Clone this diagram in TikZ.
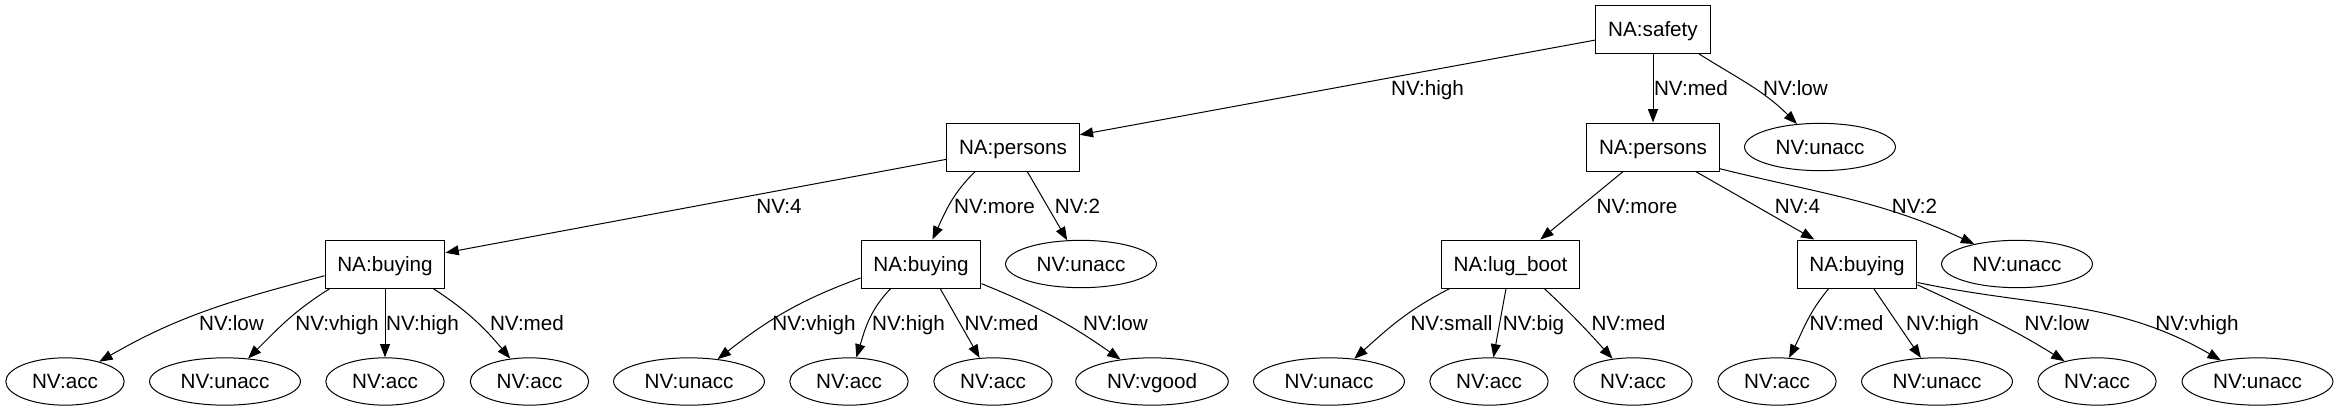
\documentclass[tikz,border=0pt]{standalone}
\usepackage{fontspec}
\setmainfont{Liberation Sans}
\usetikzlibrary{shapes.geometric,arrows.meta}
\def\attnode{\node[draw=black,rectangle,minimum height=36pt,inner xsep=9.2pt,inner ysep=0pt,text height=11.1pt,text depth=0pt]}
\def\valnode{\node[draw=black,ellipse,minimum height=35.5pt,inner xsep=6.7pt,inner ysep=0pt,text height=11.1pt,text depth=0pt]}
\def\drawedge{\draw[-{Triangle[length=10pt,width=7.5pt]}]}
\def\edgelabel{\node[anchor=base,inner sep=0pt]}

\begin{document}
\begin{tikzpicture}[x=0.75pt,y=0.75pt,line width=0.75pt,font=\fontsize{15.5}{18}\selectfont]
\useasboundingbox (0,0) rectangle (2338,-411);

% -------- attribute nodes (boxes) ---------
\attnode (safety) at (1653,-29.5) {NA:safety};
\attnode (persL) at (1013,-147) {NA:persons};
\attnode (persR) at (1653,-147) {NA:persons};
\attnode (buyLL) at (385,-264) {NA:buying};
\attnode (buyLM) at (921,-264) {NA:buying};
\attnode (lug) at (1510.5,-264) {NA:lug\_boot};
\attnode (buyR) at (1857,-264) {NA:buying};

% -------- value leaves (ellipses) ---------
\valnode (unaccS) at (1820,-147) {NV:unacc};
\valnode (unaccPL) at (1081,-264) {NV:unacc};
\valnode (unaccPR) at (2017,-264) {NV:unacc};
% bottom row, left to right
\valnode (v1) at (65,-381.5) {NV:acc};
\valnode (v2) at (225,-381.5) {NV:unacc};
\valnode (v3) at (385,-381.5) {NV:acc};
\valnode (v4) at (529.5,-381.5) {NV:acc};
\valnode (v5) at (689,-381.5) {NV:unacc};
\valnode (v6) at (849,-381.5) {NV:acc};
\valnode (v7) at (993,-381.5) {NV:acc};
\valnode (v8) at (1152,-381.5) {NV:vgood};
\valnode (v9) at (1329,-381.5) {NV:unacc};
\valnode (v10) at (1489,-381.5) {NV:acc};
\valnode (v11) at (1633,-381.5) {NV:acc};
\valnode (v12) at (1777,-381.5) {NV:acc};
\valnode (v13) at (1937,-381.5) {NV:unacc};
\valnode (v14) at (2097,-381.5) {NV:acc};
\valnode (v15) at (2257.5,-381.5) {NV:unacc};

% -------- safety ---------
\drawedge (safety) -- (persL);
\drawedge (safety) -- (persR);
\drawedge (safety.-28) to[out=-32,in=135] (unaccS);
\edgelabel (lHighS) at (1427.5,-95) {NV:high};
\edgelabel (lMedS) at (1691,-95) {NV:med};
\edgelabel (lLowS) at (1795.5,-95) {NV:low};

% -------- persons LEFT ---------
\drawedge (persL) -- (buyLL);
\drawedge (persL.213) to[out=224,in=65] (buyLM);
\drawedge (persL) -- (unaccPL);
\edgelabel (l4L) at (779,-213.3) {NV:4};
\edgelabel (lMoreL) at (994.5,-213.3) {NV:more};
\edgelabel (l2L) at (1077.5,-213.3) {NV:2};

% -------- persons RIGHT ---------
\drawedge (persR) -- (lug);
\drawedge (persR) -- (buyR);
\drawedge (persR.-18) to[out=-14,in=155] (unaccPR);
\edgelabel (lMoreR) at (1637,-213.3) {NV:more};
\edgelabel (l4R) at (1797.5,-213.3) {NV:4};
\edgelabel (l2R) at (1914.5,-213.3) {NV:2};

% -------- buying, far left ---------
\drawedge (buyLL.191) to[out=195,in=30] (v1);
\drawedge (buyLL.204) to[out=212,in=45] (v2);
\drawedge (buyLL) -- (v3);
\drawedge (buyLL.-27) to[out=-33,in=130] (v4);
\edgelabel (lLow1) at (231.5,-330.5) {NV:low};
\edgelabel (lVhigh2) at (337,-330.5) {NV:vhigh};
\edgelabel (lHigh3) at (422.5,-330.5) {NV:high};
\edgelabel (lMed4) at (527,-330.5) {NV:med};

% -------- buying, middle ---------
\drawedge (buyLM.193) to[out=200,in=38] (v5);
\drawedge (buyLM.219) to[out=226,in=73] (v6);
\drawedge (buyLM.-52) -- (v7);
\drawedge (buyLM.-18) to[out=-22,in=145] (v8);
\edgelabel (lVhigh5) at (814,-330.5) {NV:vhigh};
\edgelabel (lHigh6) at (908.5,-330.5) {NV:high};
\edgelabel (lMed7) at (1001.5,-330.5) {NV:med};
\edgelabel (lLow8) at (1115.5,-330.5) {NV:low};

% -------- lug_boot ---------
\drawedge (lug.202) to[out=207,in=42] (v9);
\drawedge (lug) -- (v10);
\drawedge (lug.-36) to[out=-43,in=132] (v11);
\edgelabel (lSmall9) at (1451.5,-330.5) {NV:small};
\edgelabel (lBig10) at (1533.5,-330.5) {NV:big};
\edgelabel (lMed11) at (1628.5,-330.5) {NV:med};

% -------- buying, right ---------
\drawedge (buyR.221) to[out=230,in=63] (v12);
\drawedge (buyR) -- (v13);
\drawedge (buyR.-19) to[out=-25,in=148] (v14);
\drawedge (buyR.-17) to[out=-12,in=150] (v15);
\edgelabel (lMed12) at (1846.5,-330.5) {NV:med};
\edgelabel (lHigh13) at (1942.5,-330.5) {NV:high};
\edgelabel (lLow14) at (2057,-330.5) {NV:low};
\edgelabel (lVhigh15) at (2197,-330.5) {NV:vhigh};
\end{tikzpicture}
\end{document}
